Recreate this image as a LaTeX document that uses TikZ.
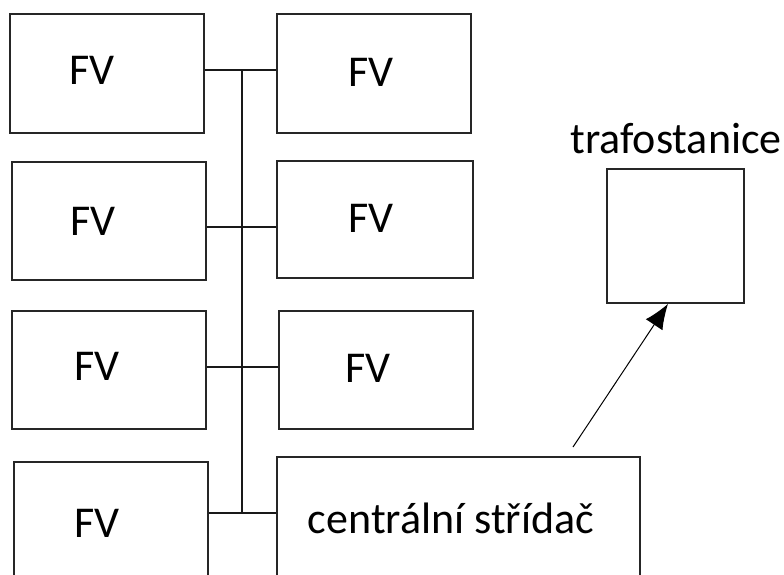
\documentclass[tikz,border=0pt]{standalone}
\usepackage{fontspec}
\setmainfont{Carlito}
\usetikzlibrary{arrows.meta}
\begin{document}
\begin{tikzpicture}[x=1pt,y=-1pt,
  box/.style={draw=black!85,line width=1.7pt,rectangle,inner sep=0pt},
  lbl/.style={font=\fontsize{44}{52}\selectfont,inner sep=0pt,anchor=center},
  wire/.style={draw=black!90,line width=1.4pt}]
\useasboundingbox (0,0) rectangle (784,574);
\fill[white] (0,0) rectangle (784,574);
\clip (0,0) rectangle (784,574);
% left column
\node[box,minimum width=194pt,minimum height=119pt] (L1) at (107,73.5) {};
\node[box,minimum width=194pt,minimum height=118pt] (L2) at (109,221) {};
\node[box,minimum width=194pt,minimum height=118pt] (L3) at (109,370) {};
\node[box,minimum width=194pt,minimum height=130pt] (L4) at (111,527) {};
% right column
\node[box,minimum width=194pt,minimum height=119pt] (R1) at (374,73.5) {};
\node[box,minimum width=196pt,minimum height=117pt] (R2) at (375,219.5) {};
\node[box,minimum width=194pt,minimum height=118pt] (R3) at (376,370) {};
\node[box,minimum width=363pt,minimum height=135pt] (C) at (458.5,524.5) {};
\node[box,minimum width=137pt,minimum height=134pt] (T) at (675.5,236) {};
% texts
\node[lbl] (tL1) at (92,70) {FV};
\node[lbl] (tL2) at (93,221) {FV};
\node[lbl] (tL3) at (97,366) {FV};
\node[lbl] (tL4) at (97,523) {FV};
\node[lbl] (tR1) at (371,72) {FV};
\node[lbl] (tR2) at (371,218) {FV};
\node[lbl] (tR3) at (368,368) {FV};
\node[lbl] (tC) at (451,518) {centrální střídač};
\node[lbl,anchor=base] (tT) at (676,153) {trafostanice};
% bus
\coordinate (j1) at (242,70);
\coordinate (j2) at (242,227);
\coordinate (j3) at (242,367);
\coordinate (j4) at (242,513);
\draw[wire] (L1.east |- j1) -- (R1.west |- j1);
\draw[wire] (L2.east |- j2) -- (R2.west |- j2);
\draw[wire] (L3.east |- j3) -- (R3.west |- j3);
\draw[wire] (L4.east |- j4) -- (C.west |- j4);
\draw[wire] (j1) -- (j4);
% arrow
\coordinate (a0) at (573,447);
\draw[line width=1pt,-{Latex[length=25pt,width=20pt]}] (a0) -- (T.south -| 668,0);
\end{tikzpicture}
\end{document}
